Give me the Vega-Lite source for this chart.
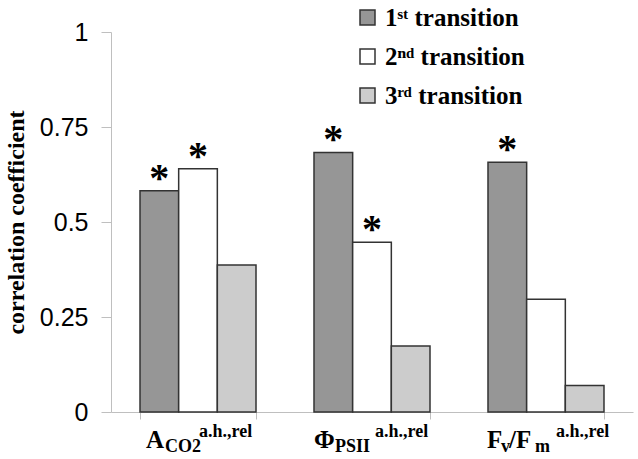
{
  "$schema": "https://vega.github.io/schema/vega-lite/v6.json",
  "width": 522,
  "height": 380,
  "autosize": {"type": "none"},
  "padding": {"left": 111, "top": 32, "right": 5, "bottom": 47},
  "background": "white",
  "config": {"view": {"stroke": null}},
  "datasets": {
    "bars": [
      {"group": "ACO2", "transition": "1ˢᵗ transition", "value": 0.582, "sig": "*"},
      {"group": "ACO2", "transition": "2ⁿᵈ transition", "value": 0.640, "sig": "*"},
      {"group": "ACO2", "transition": "3ʳᵈ transition", "value": 0.387, "sig": ""},
      {"group": "PhiPSII", "transition": "1ˢᵗ transition", "value": 0.683, "sig": "*"},
      {"group": "PhiPSII", "transition": "2ⁿᵈ transition", "value": 0.447, "sig": "*"},
      {"group": "PhiPSII", "transition": "3ʳᵈ transition", "value": 0.174, "sig": ""},
      {"group": "FvFm", "transition": "1ˢᵗ transition", "value": 0.657, "sig": "*"},
      {"group": "FvFm", "transition": "2ⁿᵈ transition", "value": 0.297, "sig": ""},
      {"group": "FvFm", "transition": "3ʳᵈ transition", "value": 0.070, "sig": ""}
    ]
  },
  "layer": [
    {
      "data": {"name": "bars"},
      "mark": {"type": "bar", "stroke": "#333333", "strokeWidth": 1.5},
      "encoding": {
        "x": {
          "field": "group", "type": "nominal",
          "scale": {"domain": ["ACO2", "PhiPSII", "FvFm"], "paddingInner": 0.3333, "paddingOuter": 0.1667},
          "axis": {"labels": false, "title": null, "tickBand": "extent", "tickSize": 7, "tickColor": "#bfbfbf", "domainColor": "#bfbfbf", "grid": false}
        },
        "xOffset": {
          "field": "transition", "type": "nominal",
          "scale": {"domain": ["1ˢᵗ transition", "2ⁿᵈ transition", "3ʳᵈ transition"], "paddingInner": 0, "paddingOuter": 0}
        },
        "y": {
          "field": "value", "type": "quantitative",
          "scale": {"domain": [0, 1], "nice": false, "zero": true},
          "axis": {
            "values": [0, 0.25, 0.5, 0.75, 1],
            "labelExpr": "'' + datum.value",
            "labelFont": "Liberation Sans", "labelFontSize": 25, "labelColor": "black",
            "labelPadding": 13, "labelFlush": false, "labelOverlap": false,
            "tickSize": 10, "tickColor": "#bfbfbf", "domainColor": "#bfbfbf", "grid": false,
            "title": "correlation coefficient",
            "titleFont": "Liberation Serif", "titleFontSize": 24, "titleFontWeight": "bold", "titleColor": "black",
            "titlePadding": 11
          }
        },
        "fill": {
          "field": "transition", "type": "nominal",
          "scale": {"domain": ["1ˢᵗ transition", "2ⁿᵈ transition", "3ʳᵈ transition"], "range": ["#969696", "#ffffff", "#cccccc"]},
          "legend": {
            "title": null, "orient": "none", "legendX": 244, "legendY": -27, "padding": 0,
            "symbolType": "square", "symbolSize": 225, "symbolStrokeColor": "#333333", "symbolStrokeWidth": 1.5, "symbolOpacity": 1,
            "labelFont": "Liberation Serif", "labelFontSize": 25, "labelFontWeight": "bold", "labelColor": "black",
            "labelOffset": 5, "rowPadding": 13, "labelLimit": 300
          }
        }
      }
    },
    {
      "data": {"name": "bars"},
      "mark": {"type": "text", "font": "Liberation Serif", "fontWeight": "bold", "fontSize": 40, "align": "center", "baseline": "alphabetic", "dy": 0, "color": "black"},
      "encoding": {
        "x": {"field": "group", "type": "nominal"},
        "xOffset": {"field": "transition", "type": "nominal"},
        "y": {"field": "value", "type": "quantitative"},
        "text": {"field": "sig"}
      }
    },
    {"data": {"values": [{}]}, "mark": {"type": "text", "font": "Liberation Serif", "fontWeight": "bold", "fontSize": 25, "align": "left", "baseline": "alphabetic", "dx": -52, "dy": 36, "color": "black"},
     "encoding": {"x": {"datum": "ACO2"}, "y": {"datum": 0}, "text": {"value": "A"}}},
    {"data": {"values": [{}]}, "mark": {"type": "text", "font": "Liberation Serif", "fontWeight": "bold", "fontSize": 18, "align": "left", "baseline": "alphabetic", "dx": -33, "dy": 40, "color": "black"},
     "encoding": {"x": {"datum": "ACO2"}, "y": {"datum": 0}, "text": {"value": "CO2"}}},
    {"data": {"values": [{}]}, "mark": {"type": "text", "font": "Liberation Serif", "fontWeight": "bold", "fontSize": 18, "align": "left", "baseline": "alphabetic", "dx": 1, "dy": 25, "color": "black"},
     "encoding": {"x": {"datum": "ACO2"}, "y": {"datum": 0}, "text": {"value": "a.h.,rel"}}},
    {"data": {"values": [{}]}, "mark": {"type": "text", "font": "Liberation Serif", "fontWeight": "bold", "fontSize": 25, "align": "left", "baseline": "alphabetic", "dx": -58, "dy": 36, "color": "black"},
     "encoding": {"x": {"datum": "PhiPSII"}, "y": {"datum": 0}, "text": {"value": "Φ"}}},
    {"data": {"values": [{}]}, "mark": {"type": "text", "font": "Liberation Serif", "fontWeight": "bold", "fontSize": 18, "align": "left", "baseline": "alphabetic", "dx": -37, "dy": 40, "color": "black"},
     "encoding": {"x": {"datum": "PhiPSII"}, "y": {"datum": 0}, "text": {"value": "PSII"}}},
    {"data": {"values": [{}]}, "mark": {"type": "text", "font": "Liberation Serif", "fontWeight": "bold", "fontSize": 18, "align": "left", "baseline": "alphabetic", "dx": 3, "dy": 25, "color": "black"},
     "encoding": {"x": {"datum": "PhiPSII"}, "y": {"datum": 0}, "text": {"value": "a.h.,rel"}}},
    {"data": {"values": [{}]}, "mark": {"type": "text", "font": "Liberation Serif", "fontWeight": "bold", "fontSize": 25, "align": "left", "baseline": "alphabetic", "dx": -59, "dy": 36, "color": "black"},
     "encoding": {"x": {"datum": "FvFm"}, "y": {"datum": 0}, "text": {"value": "F"}}},
    {"data": {"values": [{}]}, "mark": {"type": "text", "font": "Liberation Serif", "fontWeight": "bold", "fontSize": 18, "align": "left", "baseline": "alphabetic", "dx": -45, "dy": 40, "color": "black"},
     "encoding": {"x": {"datum": "FvFm"}, "y": {"datum": 0}, "text": {"value": "v"}}},
    {"data": {"values": [{}]}, "mark": {"type": "text", "font": "Liberation Serif", "fontWeight": "bold", "fontSize": 25, "align": "left", "baseline": "alphabetic", "dx": -37, "dy": 36, "color": "black"},
     "encoding": {"x": {"datum": "FvFm"}, "y": {"datum": 0}, "text": {"value": "/F"}}},
    {"data": {"values": [{}]}, "mark": {"type": "text", "font": "Liberation Serif", "fontWeight": "bold", "fontSize": 18, "align": "left", "baseline": "alphabetic", "dx": -11, "dy": 40, "color": "black"},
     "encoding": {"x": {"datum": "FvFm"}, "y": {"datum": 0}, "text": {"value": "m"}}},
    {"data": {"values": [{}]}, "mark": {"type": "text", "font": "Liberation Serif", "fontWeight": "bold", "fontSize": 18, "align": "left", "baseline": "alphabetic", "dx": 10, "dy": 25, "color": "black"},
     "encoding": {"x": {"datum": "FvFm"}, "y": {"datum": 0}, "text": {"value": "a.h.,rel"}}}
  ]
}
